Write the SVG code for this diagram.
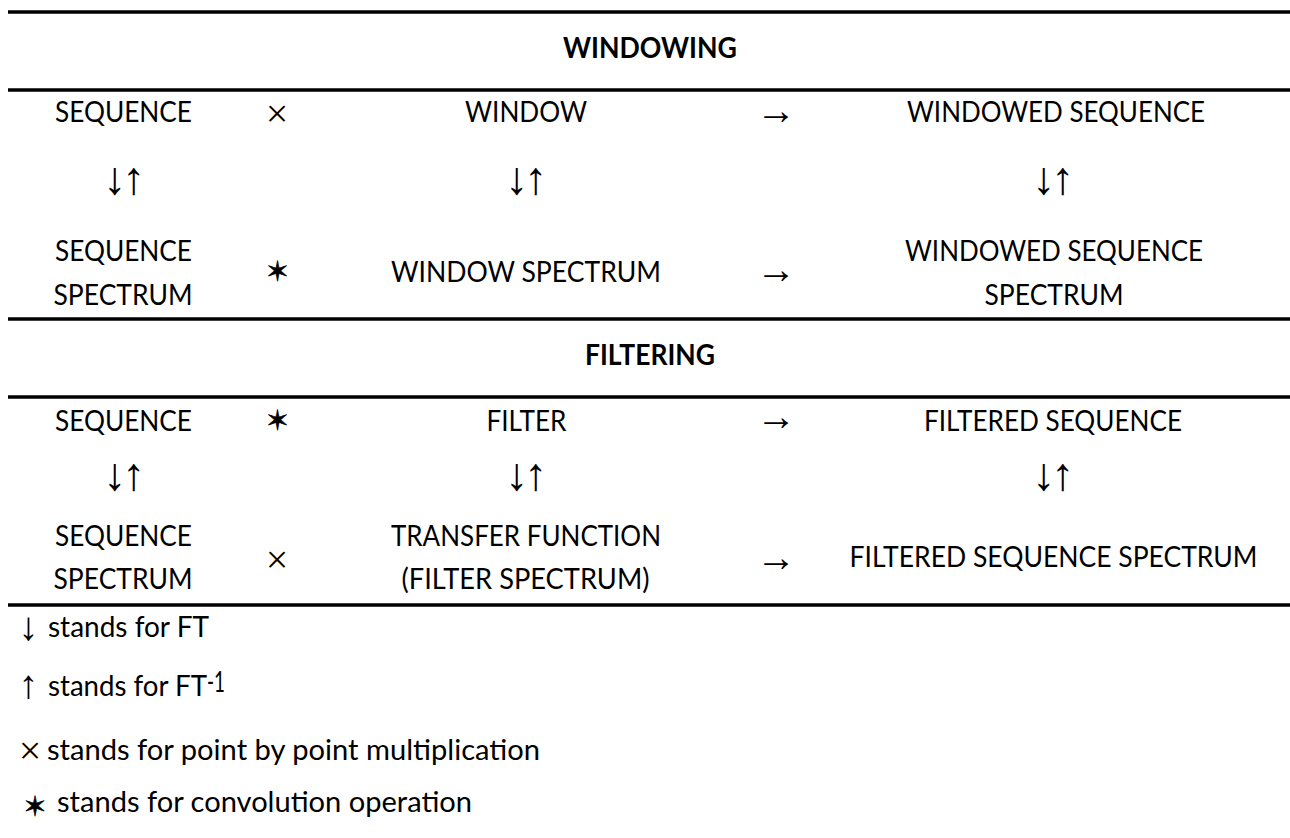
<svg xmlns="http://www.w3.org/2000/svg" width="1290" height="838" viewBox="0 0 1290 838">
<style>
  .t{font-family:Lato,"Open Sans","Liberation Sans",sans-serif;font-size:28px;fill:#000;text-anchor:middle}
  .h{font-family:Lato,"Open Sans","Liberation Sans",sans-serif;font-size:28px;font-weight:bold;fill:#000;text-anchor:middle}
  .l{font-family:Lato,"Open Sans","Liberation Sans",sans-serif;font-size:28px;fill:#000}
  .ud{font-family:"Liberation Serif","DejaVu Serif",serif;font-size:46px;letter-spacing:-4px;fill:#000;text-anchor:middle}
  .ar{font-family:"Liberation Serif","DejaVu Serif",serif;font-size:40px;fill:#000;text-anchor:middle}
  .x{font-family:"Liberation Serif","DejaVu Serif",serif;font-size:40px;fill:#000;text-anchor:middle}
  .st{font-family:"DejaVu Sans",sans-serif;font-size:28px;fill:#000;stroke:#000;stroke-width:0.6;text-anchor:middle}
  .rule{stroke:#000;stroke-width:3.5}
</style>
<rect width="1290" height="838" fill="#fff"/>
<g id="rules">
  <line class="rule" x1="8" y1="12" x2="1290" y2="12"/>
  <line class="rule" x1="8" y1="90" x2="1290" y2="90"/>
  <line class="rule" x1="8" y1="319" x2="1290" y2="319"/>
  <line class="rule" x1="8" y1="397" x2="1290" y2="397"/>
  <line class="rule" x1="8" y1="605" x2="1290" y2="605"/>
</g>
<g id="windowing">
  <text class="h" x="650" y="58" textLength="174" lengthAdjust="spacingAndGlyphs">WINDOWING</text>
  <g id="w-r1">
    <text class="t" x="123.5" y="122" textLength="137" lengthAdjust="spacingAndGlyphs">SEQUENCE</text>
    <text class="x" x="277" y="127">×</text>
    <text class="t" x="526" y="122" textLength="122" lengthAdjust="spacingAndGlyphs">WINDOW</text>
    <text class="ar" x="776" y="124">→</text>
    <text class="t" x="1056" y="122" textLength="298" lengthAdjust="spacingAndGlyphs">WINDOWED SEQUENCE</text>
  </g>
  <g id="w-r2">
    <text class="ud" x="122" y="194">↓↑</text>
    <text class="ud" x="524" y="194">↓↑</text>
    <text class="ud" x="1051" y="194">↓↑</text>
  </g>
  <g id="w-r3">
    <text class="t" x="123.5" y="261" textLength="137" lengthAdjust="spacingAndGlyphs">SEQUENCE</text>
    <text class="t" x="123" y="305" textLength="139" lengthAdjust="spacingAndGlyphs">SPECTRUM</text>
    <text class="st" x="277.5" y="281">✶</text>
    <text class="t" x="526" y="282" textLength="270" lengthAdjust="spacingAndGlyphs">WINDOW SPECTRUM</text>
    <text class="ar" x="776" y="283">→</text>
    <text class="t" x="1054" y="261" textLength="298" lengthAdjust="spacingAndGlyphs">WINDOWED SEQUENCE</text>
    <text class="t" x="1054" y="305" textLength="139" lengthAdjust="spacingAndGlyphs">SPECTRUM</text>
  </g>
</g>
<g id="filtering">
  <text class="h" x="650" y="365" textLength="130" lengthAdjust="spacingAndGlyphs">FILTERING</text>
  <g id="f-r1">
    <text class="t" x="123.5" y="431" textLength="137" lengthAdjust="spacingAndGlyphs">SEQUENCE</text>
    <text class="st" x="277.5" y="430">✶</text>
    <text class="t" x="526.5" y="431" textLength="80" lengthAdjust="spacingAndGlyphs">FILTER</text>
    <text class="ar" x="776" y="430">→</text>
    <text class="t" x="1053" y="431" textLength="258" lengthAdjust="spacingAndGlyphs">FILTERED SEQUENCE</text>
  </g>
  <g id="f-r2">
    <text class="ud" x="122" y="490">↓↑</text>
    <text class="ud" x="524" y="490">↓↑</text>
    <text class="ud" x="1051" y="490">↓↑</text>
  </g>
  <g id="f-r3">
    <text class="t" x="123.5" y="546" textLength="137" lengthAdjust="spacingAndGlyphs">SEQUENCE</text>
    <text class="t" x="123" y="589" textLength="139" lengthAdjust="spacingAndGlyphs">SPECTRUM</text>
    <text class="x" x="277" y="573">×</text>
    <text class="t" x="526" y="546" textLength="270" lengthAdjust="spacingAndGlyphs">TRANSFER FUNCTION</text>
    <text class="t" x="525.5" y="589" textLength="248" lengthAdjust="spacingAndGlyphs">(FILTER SPECTRUM)</text>
    <text class="ar" x="776" y="571">→</text>
    <text class="t" x="1053.5" y="567" textLength="408" lengthAdjust="spacingAndGlyphs">FILTERED SEQUENCE SPECTRUM</text>
  </g>
</g>
<g id="legend">
  <text class="ar" x="28.5" y="640" font-size="38">↓</text>
  <text class="l" x="48" y="637" textLength="161" lengthAdjust="spacingAndGlyphs">stands for FT</text>
  <text class="ar" x="28.5" y="698" font-size="38">↑</text>
  <text class="l" x="48" y="696" textLength="159" lengthAdjust="spacingAndGlyphs">stands for FT</text>
  <text class="l" x="207" y="692" font-size="18" textLength="18" lengthAdjust="spacingAndGlyphs">-1</text>
  <text class="x" x="30" y="764" font-size="36">×</text>
  <text class="l" x="47" y="760" textLength="493" lengthAdjust="spacingAndGlyphs">stands for point by point multiplication</text>
  <text class="st" x="35" y="816" font-size="26">✶</text>
  <text class="l" x="57" y="812" textLength="415" lengthAdjust="spacingAndGlyphs">stands for convolution operation</text>
</g>
</svg>
